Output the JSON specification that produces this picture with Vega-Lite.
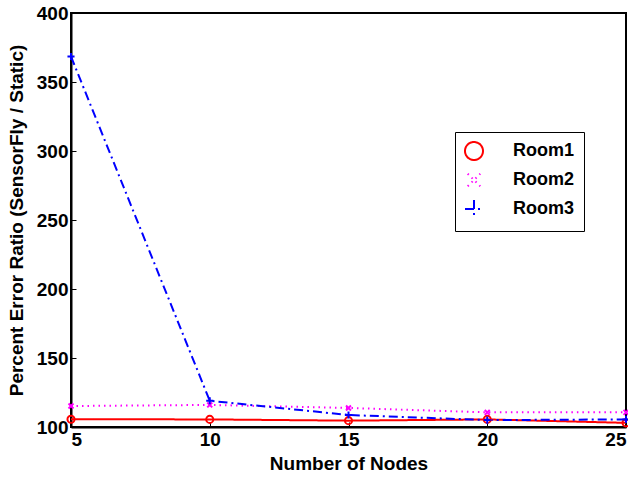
{
  "$schema": "https://vega.github.io/schema/vega-lite/v6.json",
  "width": 555,
  "height": 414,
  "autosize": "none",
  "padding": {"left": 71, "top": 13, "right": 2, "bottom": 50},
  "background": "white",
  "data": {
    "values": [
      {"nodes": 5, "series": "Room1", "value": 105.6},
      {"nodes": 10, "series": "Room1", "value": 105.5},
      {"nodes": 15, "series": "Room1", "value": 104.6},
      {"nodes": 20, "series": "Room1", "value": 105.5},
      {"nodes": 25, "series": "Room1", "value": 103.0},
      {"nodes": 5, "series": "Room2", "value": 115.2},
      {"nodes": 10, "series": "Room2", "value": 116.0},
      {"nodes": 15, "series": "Room2", "value": 113.8},
      {"nodes": 20, "series": "Room2", "value": 110.6},
      {"nodes": 25, "series": "Room2", "value": 110.6},
      {"nodes": 5, "series": "Room3", "value": 368.5},
      {"nodes": 10, "series": "Room3", "value": 119.0},
      {"nodes": 15, "series": "Room3", "value": 108.7},
      {"nodes": 20, "series": "Room3", "value": 105.0},
      {"nodes": 25, "series": "Room3", "value": 105.5}
    ]
  },
  "encoding": {
    "x": {
      "field": "nodes", "type": "quantitative",
      "scale": {"domain": [5, 25], "nice": false, "zero": false},
      "axis": {"values": [5, 10, 15, 20, 25], "title": "Number of Nodes", "grid": false,
               "tickSize": -5, "labelPadding": 8, "titlePadding": 5,
               "labelFontWeight": "bold", "labelFontSize": 19, "titleFontSize": 19}
    },
    "y": {
      "field": "value", "type": "quantitative",
      "scale": {"domain": [100, 400], "nice": false, "zero": false},
      "axis": {"values": [100, 150, 200, 250, 300, 350, 400], "title": "Percent Error Ratio (SensorFly / Static)",
               "grid": false, "tickSize": -5, "labelPadding": 8, "titlePadding": 10,
               "labelFontWeight": "bold", "labelFontSize": 19, "titleFontSize": 19}
    }
  },
  "layer": [
    {
      "mark": {"type": "line"},
      "encoding": {
        "color": {
          "field": "series", "type": "nominal",
          "scale": {"domain": ["Room1", "Room2", "Room3"], "range": ["#ff0000", "#ff00ff", "#0000ff"]},
          "legend": {
            "title": null,
            "orient": "none",
            "legendX": 384,
            "legendY": 119,
            "direction": "vertical",
            "padding": 9,
            "strokeColor": "black",
            "fillColor": "white",
            "labelFontSize": 18,
            "labelFontWeight": "bold",
            "labelFont": "Liberation Sans",
            "labelColor": "black",
            "rowPadding": 5,
            "symbolSize": 324,
            "symbolStrokeWidth": 2,
            "symbolOpacity": 1,
            "labelOffset": 29,
            "encoding": {
              "symbols": {
                "shape": {"value": {"expr": "datum.value === 'Room1' ? 'M-1,0H3.889M1.054,0A0.39,0.39 0 1,0 1.834,0A0.39,0.39 0 1,0 1.054,0' : datum.value === 'Room2' ? 'M-1,0h0.17M-0.5,0h0.17M0,0h0.17M0.5,0h0.17M2.39,0h0.17M2.89,0h0.17M3.39,0h0.17M3.89,0h0.17M1.166,-0.28L1.722,0.28M1.166,0.28L1.722,-0.28' : 'M-1,0h0.2M-0.333,0H0.889M2.0,0H3.222M3.78,0h0.2M1.054,0H1.834M1.444,-0.39V0.39'"}},
                "strokeDash": {"value": []},
                "fill": {"value": "transparent"},
                "strokeWidth": {"value": 2}
              }
            }
          }
        },
        "strokeDash": {
          "field": "series", "type": "nominal",
          "scale": {"domain": ["Room1", "Room2", "Room3"], "range": [[1, 0], [1.5, 4], [9, 4, 2, 4]]},
          "legend": null
        },
        "strokeWidth": {"value": 2}
      }
    },
    {
      "mark": {"type": "point", "filled": false, "strokeWidth": 2, "opacity": 1},
      "encoding": {
        "color": {"field": "series", "type": "nominal"},
        "shape": {
          "field": "series", "type": "nominal",
          "scale": {"domain": ["Room1", "Room2", "Room3"],
                    "range": ["circle", "M-0.7,-0.7L0.7,0.7M-0.7,0.7L0.7,-0.7", "M-1,0L1,0M0,-1L0,1"]},
          "legend": null
        },
        "size": {"value": 50}
      }
    }
  ],
  "config": {
    "font": "Liberation Sans",
    "view": {"stroke": "black", "strokeWidth": 2},
    "axis": {
      "labelFont": "Liberation Sans", "labelFontSize": 19, "labelFontWeight": "bold", "labelColor": "black",
      "titleFont": "Liberation Sans", "titleFontSize": 19, "titleFontWeight": "bold", "titleColor": "black",
      "domainColor": "black", "domainWidth": 2, "tickColor": "black", "tickWidth": 1
    }
  }
}
